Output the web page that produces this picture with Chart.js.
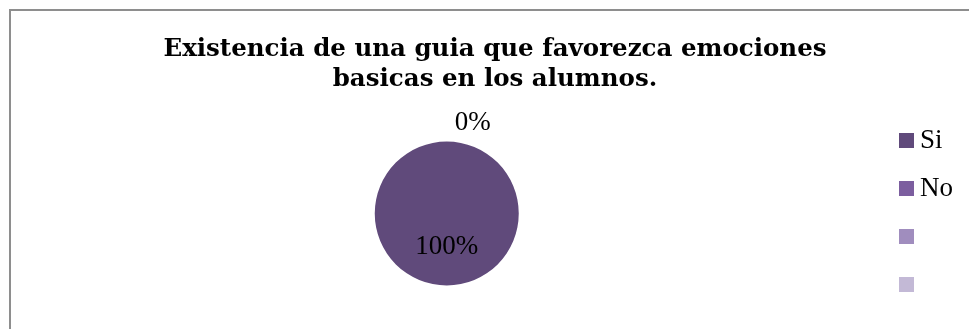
<!DOCTYPE html>
<html>
<head>
<meta charset="utf-8">
<script src="https://cdn.jsdelivr.net/npm/chart.js@4/dist/chart.umd.min.js"></script>
<style>
  html, body { margin: 0; padding: 0; background: #fff; overflow: hidden; }
  body { width: 969px; height: 329px; position: relative; }
  #frame {
    position: absolute; left: 9px; top: 9px; width: 1000px; height: 340px;
    border-top: 2px solid #8e8e8e; border-left: 2px solid #8e8e8e;
    box-sizing: border-box;
  }
  #wrap { position: absolute; left: 9px; top: 9px; width: 972px; height: 320px; }
</style>
</head>
<body>
<div id="frame"></div>
<div id="wrap"><canvas id="c"></canvas></div>
<script>
// Survey answers
const categories = ['Si', 'No', '', ''];
const answers = [100, 0, null, null];
const sliceColors = ['#604A7B', '#7C5E9F', '#A08DBE', '#C3B9D6'];
const titleLines = ['Existencia de una guia que favorezca emociones', 'basicas en los alumnos.'];

// Small square swatches used as legend markers
function swatch(color) {
  const c = document.createElement('canvas');
  c.width = 15; c.height = 15;
  const g = c.getContext('2d');
  g.fillStyle = color;
  g.fillRect(0, 0, 15, 15);
  return c;
}
const swatches = sliceColors.map(swatch);

// Empty gap between the pie area and the legend
const legendGap = {
  id: 'legendGap',
  beforeInit(chart) {
    Chart.layouts.addBox(chart, {
      position: 'right',
      weight: 500,
      fullSize: false,
      options: {},
      isHorizontal() { return false; },
      update(maxWidth, maxHeight) { this.width = 18; this.height = maxHeight; },
      draw() {}
    });
  }
};

// Percentage labels: inside for visible slices, outside above for empty ones
const percentLabels = {
  id: 'percentLabels',
  afterDatasetsDraw(chart) {
    const { ctx } = chart;
    const meta = chart.getDatasetMeta(0);
    const values = chart.data.datasets[0].data;
    const total = values.reduce((s, v) => s + (v || 0), 0);
    ctx.save();
    ctx.font = '27px "Liberation Serif"';
    ctx.fillStyle = '#000';
    ctx.textBaseline = 'middle';
    meta.data.forEach((arc, i) => {
      const v = values[i];
      if (v === null || v === undefined) return;
      const { x, y, startAngle, endAngle, outerRadius } = arc.getProps(['x', 'y', 'startAngle', 'endAngle', 'outerRadius'], true);
      const mid = (startAngle + endAngle) / 2;
      const pct = Math.round(v / total * 100) + '%';
      if (v > 0) {
        const r = outerRadius * 0.47;
        ctx.textAlign = 'center';
        ctx.fillText(pct, x + Math.cos(mid) * r, y + Math.sin(mid) * r);
      } else {
        const r = outerRadius + 19;
        ctx.textAlign = 'left';
        ctx.fillText(pct, x + Math.cos(mid) * r + 8, y + Math.sin(mid) * r);
      }
    });
    ctx.restore();
  }
};

new Chart(document.getElementById('c'), {
  type: 'pie',
  data: {
    labels: categories,
    datasets: [{
      data: answers,
      backgroundColor: sliceColors,
      borderWidth: 0,
      radius: 72
    }]
  },
  options: {
    responsive: true,
    maintainAspectRatio: false,
    animation: false,
    layout: { padding: { left: 18, right: 18, bottom: 10 } },
    plugins: {
      tooltip: { enabled: false },
      title: {
        display: true,
        text: titleLines,
        color: '#000',
        font: { family: '"DejaVu Serif"', size: 24.5, weight: 'bold', lineHeight: '30px' },
        padding: { top: 26, bottom: 13 }
      },
      legend: {
        position: 'right',
        align: 'end',
        labels: {
          color: '#000',
          usePointStyle: true,
          boxWidth: 1,
          boxHeight: 15,
          padding: 21,
          font: { family: '"Liberation Serif"', size: 27 },
          generateLabels(chart) {
            return categories.map((t, i) => ({
              text: t,
              fillStyle: sliceColors[i],
              strokeStyle: sliceColors[i],
              pointStyle: swatches[i],
              lineWidth: 0,
              hidden: false,
              index: i
            }));
          }
        }
      }
    }
  },
  plugins: [legendGap, percentLabels]
});
</script>
</body>
</html>
